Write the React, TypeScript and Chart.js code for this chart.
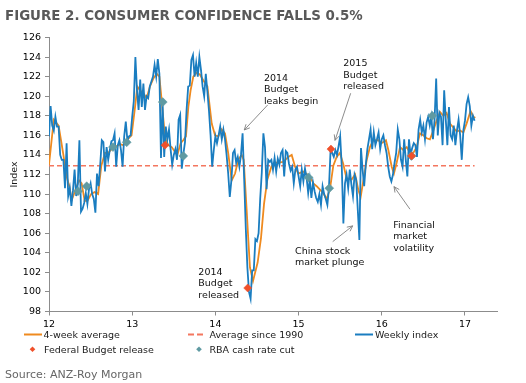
import React, { useEffect, useRef } from "react";
import { Chart, registerables } from "chart.js";

Chart.register(...registerables);

const FONT = "'DejaVu Sans', Verdana, sans-serif";

// ---------- DATA ----------
const TITLE = "FIGURE 2. CONSUMER CONFIDENCE FALLS 0.5%";
const SOURCE = "Source: ANZ-Roy Morgan";
const START_YEAR = 12; // first week of 2012
const WEEKS_PER_YEAR = 52;

// Weekly index, one value per week from the start of 2012
const weeklyIndex = [
  115.9, 119.0, 117.0, 116.5, 117.9, 116.9, 116.9, 114.0, 113.5, 113.5,
  110.6, 115.2, 109.8, 110.6, 108.8, 110.4, 112.5, 109.8, 111.0, 115.5,
  108.2, 108.5, 109.1, 110.1, 109.0, 110.5, 111.1, 110.0, 109.5, 108.1,
  112.1, 110.8, 113.0, 115.5, 115.3, 112.3, 114.8, 113.5, 114.5, 115.4,
  115.5, 116.2, 112.8, 115.0, 115.5, 114.5, 112.8, 115.9, 117.4, 115.5,
  115.9, 116.0, 117.9, 119.5, 124.0, 120.6, 118.6, 121.7, 118.9, 121.3,
  118.6, 120.0, 119.8, 121.0, 121.5, 122.0, 123.2, 122.0, 123.8, 122.3,
  113.7, 119.3, 113.8, 116.9, 115.6, 116.6, 114.6, 113.0, 114.0, 114.6,
  113.5, 117.6, 118.1, 112.6, 114.1, 115.3, 118.6, 121.0, 121.1, 123.7,
  124.2, 122.0, 123.4, 122.0, 124.0, 122.7, 121.0, 120.0, 122.3, 120.5,
  118.5, 116.0, 112.8, 114.5, 115.9, 115.2, 116.0, 116.9, 115.6, 116.6,
  115.6, 114.0, 112.1, 109.7, 111.4, 114.2, 114.5, 113.2, 113.8, 112.8,
  114.0, 116.2, 111.5, 106.5, 102.5, 100.0, 99.3, 102.2, 102.2, 105.4,
  105.2, 106.0, 109.5, 112.2, 116.2, 114.8, 110.5, 113.5, 113.3, 113.5,
  112.5, 113.7, 112.3, 113.6, 113.0, 114.2, 114.5, 111.8, 114.4, 114.2,
  113.1, 112.4, 112.8, 111.1, 112.5, 112.8, 111.8, 110.8, 112.5, 111.3,
  112.6, 111.7, 110.1, 111.5, 109.6, 111.2, 110.3, 109.6, 109.2, 110.0,
  108.9, 110.8, 110.0, 109.5, 108.9, 110.7, 114.5, 114.2, 113.8, 114.5,
  114.0, 114.9, 115.9, 112.8, 107.0, 111.1, 112.0, 110.6, 112.5, 111.0,
  109.8, 112.0, 111.5, 108.4, 105.3, 114.7, 112.5, 110.8, 113.0, 114.6,
  115.6, 116.6, 114.6, 116.3, 115.0, 115.6, 116.3, 114.6, 115.6, 116.0,
  115.0, 114.2, 112.8, 111.8, 111.3, 112.0, 113.2, 114.2, 116.6, 115.6,
  113.5, 112.8, 115.6, 113.5, 111.8, 115.6, 114.0, 114.7, 115.2, 115.0,
  113.8, 116.6, 117.6, 116.3, 117.0, 115.6, 117.3, 117.9, 117.0, 117.9,
  115.6, 117.6, 121.8, 116.0, 118.3, 117.9, 115.0, 120.6, 117.6, 115.0,
  118.9, 116.0, 115.6, 117.0, 115.0, 116.5, 117.6, 116.0, 113.5, 116.5,
  117.5, 119.2, 119.9, 119.0, 117.0, 118.0, 117.5,
];

// 4-week average, read at the weeks where it was sampled
const avgWeeks = [
  0, 3, 6, 7.5, 9, 11, 12.7, 14.2, 15.6, 17.3, 18.8, 20.4, 22.3, 24, 26.3, 28.5, 30.7, 32.7, 35, 37,
  39.1, 41.3, 44.4, 46.5, 48.5, 51.6, 53.8, 55.2, 56.9, 59, 61, 63.1, 65.2, 67.3, 69, 70.4, 71.9, 73.1,
  74.6, 76.7, 78.8, 80.2, 82.3, 83.9, 85.6, 87.1, 88.5, 90.2, 92.3, 94.4, 96.5, 99, 101.7, 103.8, 105.8,
  107.9, 110, 112, 114.2, 116.3, 118.3, 120.4, 121.7, 123.5, 124.6, 125.6, 127.5, 130.4, 132.5, 134.4,
  136.5, 139, 141, 143.3, 146.5, 149.6, 151.7, 153.8, 155.8, 158.9, 163.1, 165.2, 167.3, 171.4, 173.5,
  175.6, 177.7, 179.8, 181.8, 183.9, 186, 189.2, 191.3, 193.4, 194.8, 196.5, 198.6, 200.6, 202.7, 205.9,
  207.9, 210.6, 212.1, 214.2, 215.6, 217.3, 219.4, 221.5, 223.6, 225.6, 227.7, 229.8, 231.9, 234, 236.1,
  238.1, 240.2, 242.3, 244.4, 246.5, 248.5, 250.6, 252.7, 254.8, 256.9, 259, 261, 263.5, 265.2, 266.5,
];
const avgValues = [
  113.0, 117.6, 117.0, 115.5, 114.0, 111.8, 110.8, 109.4, 110.0, 110.8, 111.4, 111.1, 109.3, 109.3, 110.0, 110.2, 110.0, 112.9, 114.2, 114.2,
  114.6, 114.8, 115.1, 115.0, 115.5, 116.0, 118.9, 121.0, 120.6, 120.3, 119.8, 121.0, 121.8, 122.3, 122.0, 119.6, 116.9, 115.5,
  115.0, 114.8, 114.3, 114.0, 115.2, 115.5, 115.9, 118.9, 120.6, 122.0, 122.4, 122.2, 121.6, 121.0, 117.2, 116.0, 115.9,
  116.6, 116.2, 114.2, 111.4, 112.1, 113.5, 114.0, 113.5, 108.5, 105.3, 102.5, 101.1, 103.0, 105.5, 109.0,
  111.5, 112.8, 113.2, 113.2, 113.3, 113.8, 114.0, 112.8, 112.1, 112.3, 111.8, 111.1, 110.8, 110.1, 109.5,
  110.5, 112.9, 113.8, 114.2, 113.1, 111.6, 111.5, 112.0, 110.4, 109.7, 111.4, 113.5, 114.8, 115.5, 115.5,
  115.2, 115.5, 114.5, 112.8, 112.1, 113.2, 114.8, 114.5, 114.8, 114.2, 114.2, 114.8, 116.2, 116.0, 115.7,
  115.6, 116.5, 117.5, 118.4, 118.0, 118.3, 117.2, 116.8, 116.4, 116.5, 116.3, 117.2, 118.5, 117.9, 117.8,
];

const longRunAverage = 112.9; // average since 1990

// Event markers (dates as fractional years, values on the index)
const budgetDates = [13.394, 14.388, 15.389, 16.359];
const budgetValues = [115.0, 100.4, 114.6, 113.9];
const rbaDates = [12.349, 12.453, 12.769, 12.934, 13.367, 13.614, 15.119, 15.369, 16.357, 16.607];
const rbaValues = [110.3, 110.8, 114.8, 115.3, 119.4, 113.9, 111.7, 110.6, 113.9, 118.0];

const xTickLabels = ["12", "13", "14", "15", "16", "17"];
const X_MAX = 17.385;
const Y_MIN = 98;
const Y_MAX = 126;
const Y_STEP = 2;

// ---------- STYLE ----------
const BLUE = "#1a7dc0";
const ORANGE = "#ef8a1f";
const DASH_RED = "#f4775f";
const RED = "#f0502a";
const TEAL = "#5f9aa2";
const AXIS = "#8c8c8c";

// Annotations (anchored in data units: year, index; first-line baseline)
const annotations = [
  { lines: ["2014", "Budget", "leaks begin"], x: 14.584, y: 121.56, from: [14.629, 119.11], to: [14.347, 116.55] },
  { lines: ["2014", "Budget", "released"], x: 13.795, y: 101.74 },
  { lines: ["2015", "Budget", "released"], x: 15.537, y: 123.06, from: [15.626, 120.3], to: [15.438, 115.49] },
  { lines: ["China stock", "market plunge"], x: 14.957, y: 103.89, from: [15.41, 105.14], to: [15.65, 106.75] },
  { lines: ["Financial", "market", "volatility"], x: 16.138, y: 106.57, from: [16.339, 108.45], to: [16.147, 110.76] },
];

function diamond(ctx: CanvasRenderingContext2D, x: number, y: number, r: number, color: string) {
  ctx.beginPath();
  ctx.moveTo(x, y - r);
  ctx.lineTo(x + r, y);
  ctx.lineTo(x, y + r);
  ctx.lineTo(x - r, y);
  ctx.closePath();
  ctx.fillStyle = color;
  ctx.fill();
}

const overlayPlugin = {
  id: "overlay",
  beforeDraw(chart: any) {
    const { ctx, width, height } = chart;
    ctx.save();
    ctx.fillStyle = "#ffffff";
    ctx.fillRect(0, 0, width, height);
    ctx.restore();
  },
  afterDraw(chart: any) {
    const ctx: CanvasRenderingContext2D = chart.ctx;
    const xs = chart.scales.x;
    const ys = chart.scales.y;
    ctx.save();
    ctx.textAlign = "left";
    ctx.textBaseline = "alphabetic";

    // Title
    ctx.font = `bold 13.4px ${FONT}`;
    ctx.fillStyle = "#595959";
    ctx.fillText(TITLE, 5, 19.5);

    // Annotations
    ctx.font = `9.5px ${FONT}`;
    for (const a of annotations) {
      const px = xs.getPixelForValue(a.x);
      const py = ys.getPixelForValue(a.y);
      ctx.fillStyle = "#111111";
      a.lines.forEach((l, i) => ctx.fillText(l, px, py + i * 11.5));
      if (a.from && a.to) {
        const x1 = xs.getPixelForValue(a.from[0]);
        const y1 = ys.getPixelForValue(a.from[1]);
        const x2 = xs.getPixelForValue(a.to[0]);
        const y2 = ys.getPixelForValue(a.to[1]);
        ctx.strokeStyle = "#7f7f7f";
        ctx.lineWidth = 0.9;
        ctx.beginPath();
        ctx.moveTo(x1, y1);
        ctx.lineTo(x2, y2);
        const ang = Math.atan2(y2 - y1, x2 - x1);
        const hl = 6;
        ctx.moveTo(x2, y2);
        ctx.lineTo(x2 - hl * Math.cos(ang - 0.45), y2 - hl * Math.sin(ang - 0.45));
        ctx.moveTo(x2, y2);
        ctx.lineTo(x2 - hl * Math.cos(ang + 0.45), y2 - hl * Math.sin(ang + 0.45));
        ctx.stroke();
      }
    }

    // Legend
    ctx.font = `9.5px ${FONT}`;
    ctx.fillStyle = "#1a1a1a";
    ctx.lineWidth = 2;
    ctx.strokeStyle = ORANGE;
    ctx.beginPath();
    ctx.moveTo(24, 334.5);
    ctx.lineTo(42, 334.5);
    ctx.stroke();
    ctx.fillText("4-week average", 43.5, 338);

    ctx.strokeStyle = DASH_RED;
    ctx.setLineDash([6, 3]);
    ctx.beginPath();
    ctx.moveTo(188, 334.5);
    ctx.lineTo(204, 334.5);
    ctx.stroke();
    ctx.setLineDash([]);
    ctx.fillText("Average since 1990", 209.5, 338);

    ctx.strokeStyle = BLUE;
    ctx.beginPath();
    ctx.moveTo(355, 334.5);
    ctx.lineTo(373, 334.5);
    ctx.stroke();
    ctx.fillText("Weekly index", 375, 338);

    diamond(ctx, 32.5, 349.3, 2.8, RED);
    ctx.fillStyle = "#1a1a1a";
    ctx.fillText("Federal Budget release", 44, 352.7);
    diamond(ctx, 199, 349.3, 2.8, TEAL);
    ctx.fillStyle = "#1a1a1a";
    ctx.fillText("RBA cash rate cut", 209.5, 352.7);

    // Source
    ctx.font = `11px ${FONT}`;
    ctx.fillStyle = "#666666";
    ctx.fillText(SOURCE, 5, 377.7);

    ctx.restore();
  },
};

export default function App() {
  const canvasRef = useRef<HTMLCanvasElement | null>(null);

  useEffect(() => {
    if (!canvasRef.current) return;
    Chart.defaults.font.family = FONT;

    const weeklyData = weeklyIndex.map((v, i) => ({ x: START_YEAR + i / WEEKS_PER_YEAR, y: v }));
    const avgData = avgWeeks.map((w, i) => ({ x: START_YEAR + w / WEEKS_PER_YEAR, y: avgValues[i] }));
    const lastX = START_YEAR + (weeklyIndex.length - 1) / WEEKS_PER_YEAR;
    const longRunData = [
      { x: START_YEAR, y: longRunAverage },
      { x: lastX, y: longRunAverage },
    ];
    const budgetData = budgetDates.map((d, i) => ({ x: d, y: budgetValues[i] }));
    const rbaData = rbaDates.map((d, i) => ({ x: d, y: rbaValues[i] }));

    const chart = new Chart(canvasRef.current, {
      type: "line",
      data: {
        datasets: [
          {
            label: "Federal Budget release",
            data: budgetData,
            showLine: false,
            pointStyle: "rectRot",
            pointRadius: 4,
            pointBackgroundColor: RED,
            pointBorderColor: RED,
            pointBorderWidth: 0.5,
            order: 0,
          },
          {
            label: "RBA cash rate cut",
            data: rbaData,
            showLine: false,
            pointStyle: "rectRot",
            pointRadius: 4.5,
            pointBackgroundColor: TEAL,
            pointBorderColor: TEAL,
            pointBorderWidth: 0.5,
            order: 1,
          },
          {
            label: "Weekly index",
            data: weeklyData,
            borderColor: BLUE,
            borderWidth: 1.8,
            pointRadius: 0,
            tension: 0,
            order: 2,
          },
          {
            label: "4-week average",
            data: avgData,
            borderColor: ORANGE,
            borderWidth: 1.8,
            pointRadius: 0,
            tension: 0,
            order: 3,
          },
          {
            label: "Average since 1990",
            data: longRunData,
            borderColor: DASH_RED,
            borderWidth: 1.5,
            borderDash: [5, 3],
            pointRadius: 0,
            order: 4,
          },
        ],
      },
      options: {
        animation: false,
        responsive: false,
        maintainAspectRatio: false,
        layout: { padding: { left: 0, top: 37.5, right: 29, bottom: 51.5 } },
        plugins: {
          legend: { display: false },
          tooltip: { enabled: false },
        },
        scales: {
          x: {
            type: "linear",
            min: START_YEAR,
            max: X_MAX,
            afterFit: (scale: any) => {
              scale.height = 20;
            },
            ticks: {
              stepSize: 1,
              includeBounds: false,
              padding: 3,
              color: "#000000",
              font: { size: 9.5, family: FONT },
              maxRotation: 0,
              callback: (v: any) => {
                const idx = Math.round(Number(v)) - START_YEAR;
                return Number.isInteger(Number(v)) && xTickLabels[idx] !== undefined ? xTickLabels[idx] : "";
              },
            },
            grid: {
              display: true,
              drawOnChartArea: false,
              drawTicks: true,
              tickLength: 4,
              color: AXIS,
            },
            border: { display: true, color: AXIS, width: 1 },
          },
          y: {
            min: Y_MIN,
            max: Y_MAX,
            afterFit: (scale: any) => {
              scale.width = 49;
            },
            ticks: {
              stepSize: Y_STEP,
              padding: 4,
              color: "#000000",
              font: { size: 9.5, family: FONT },
            },
            grid: {
              display: true,
              drawOnChartArea: false,
              drawTicks: true,
              tickLength: 4,
              color: AXIS,
            },
            border: { display: true, color: AXIS, width: 1 },
            title: {
              display: true,
              text: "Index",
              color: "#1a1a1a",
              font: { size: 9.5, family: FONT },
              padding: { top: 9, bottom: 0 },
            },
          },
        },
      },
      plugins: [overlayPlugin],
    } as any);

    return () => chart.destroy();
  }, []);

  return (
    <div style={{ position: "absolute", left: 0, top: 0, width: 526, height: 383 }}>
      <canvas ref={canvasRef} width={526} height={383} style={{ width: 526, height: 383, display: "block" }} />
    </div>
  );
}
